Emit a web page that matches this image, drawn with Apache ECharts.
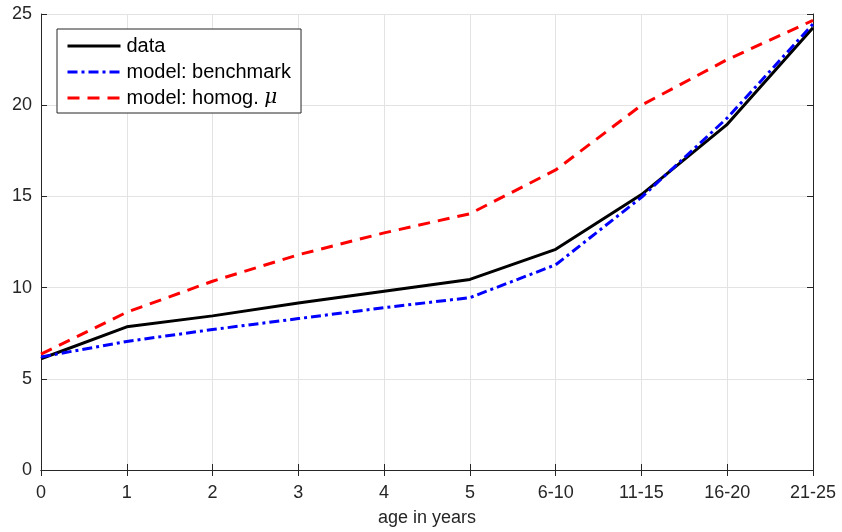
<!DOCTYPE html>
<html>
<head>
<meta charset="utf-8">
<script src="https://cdn.jsdelivr.net/npm/echarts@6/dist/echarts.min.js"></script>
<style>
  html, body { margin: 0; padding: 0; background: #fff; }
  #chart { width: 842px; height: 532px; }
</style>
</head>
<body>
<div id="chart"></div>
<script>
// age groups on the x axis
let ages = ['0', '1', '2', '3', '4', '5', '6-10', '11-15', '16-20', '21-25'];
// series
let dataVals = [6.1, 7.85, 8.45, 9.15, 9.8, 10.45, 12.1, 15.1, 18.95, 24.25];
let benchVals = [6.2, 7.05, 7.7, 8.3, 8.9, 9.45, 11.25, 14.95, 19.3, 24.45];
let homogVals = [6.35, 8.65, 10.35, 11.8, 13.0, 14.05, 16.45, 20.0, 22.5, 24.65];

let axisCol = '#262626';
let font = 'Liberation Sans, Arial, sans-serif';

let myChart = echarts.init(document.getElementById('chart'));
let option = {
    animation: false,
    textStyle: { fontFamily: font },
    grid: { left: 41, right: 29, top: 14, bottom: 62, outerBoundsMode: 'none', containLabel: false },
    legend: {
        orient: 'vertical',
        left: 57, top: 29,
        padding: [7, 10, 5, 9],
        itemGap: 6,
        itemWidth: 53,
        itemHeight: 20,
        borderColor: axisCol,
        borderWidth: 1,
        backgroundColor: '#fff',
        itemStyle: { opacity: 0 },
        lineStyle: { width: 3 },
        textStyle: {
            fontSize: 20, color: '#000', fontFamily: font, padding: [0, 0, 0, 1],
            rich: { i: { fontStyle: 'italic', fontSize: 20, fontFamily: 'DejaVu Serif, serif' } }
        },
        formatter: function (name) {
            return name === 'model: homog. μ' ? 'model: homog. {i|μ}' : name;
        },
        data: ['data', 'model: benchmark', 'model: homog. μ']
    },
    xAxis: [{
        type: 'category',
        data: ages,
        boundaryGap: false,
        name: 'age in years',
        nameLocation: 'middle',
        nameGap: 39,
        nameTextStyle: { fontSize: 18, color: axisCol },
        axisLine: { lineStyle: { color: axisCol, width: 1 } },
        axisTick: { inside: true, length: 6, lineStyle: { color: axisCol } },
        axisLabel: { fontSize: 18, color: axisCol, margin: 14 },
        splitLine: { show: true, lineStyle: { color: '#e3e3e3' } }
    }, {
        type: 'category',
        data: ages,
        boundaryGap: false,
        position: 'top',
        axisLine: { lineStyle: { color: axisCol, width: 1 } },
        axisTick: { inside: true, length: 6, lineStyle: { color: axisCol } },
        axisLabel: { show: false },
        splitLine: { show: false }
    }],
    yAxis: [{
        type: 'value',
        min: 0, max: 25, interval: 5,
        axisLine: { show: true, lineStyle: { color: axisCol, width: 1 } },
        axisTick: { show: true, inside: true, length: 6, lineStyle: { color: axisCol } },
        axisLabel: { fontSize: 18, color: axisCol, margin: 9 },
        splitLine: { show: true, lineStyle: { color: '#e3e3e3' } }
    }, {
        type: 'value',
        min: 0, max: 25, interval: 5,
        position: 'right',
        axisLine: { show: true, lineStyle: { color: axisCol, width: 1 } },
        axisTick: { show: true, inside: true, length: 6, lineStyle: { color: axisCol } },
        axisLabel: { show: false },
        splitLine: { show: false }
    }],
    series: [{
        name: 'data',
        type: 'line',
        data: dataVals,
        symbol: 'none',
        color: '#000',
        lineStyle: { color: '#000', width: 3 }
    }, {
        name: 'model: benchmark',
        type: 'line',
        data: benchVals,
        symbol: 'none',
        color: '#0000ff',
        lineStyle: { color: '#0000ff', width: 3, type: [10, 4, 3, 4] }
    }, {
        name: 'model: homog. μ',
        type: 'line',
        data: homogVals,
        symbol: 'none',
        color: '#ff0000',
        z: 1,
        lineStyle: { color: '#ff0000', width: 3, type: [12, 8] }
    }]
};
myChart.setOption(option);
</script>
</body>
</html>
